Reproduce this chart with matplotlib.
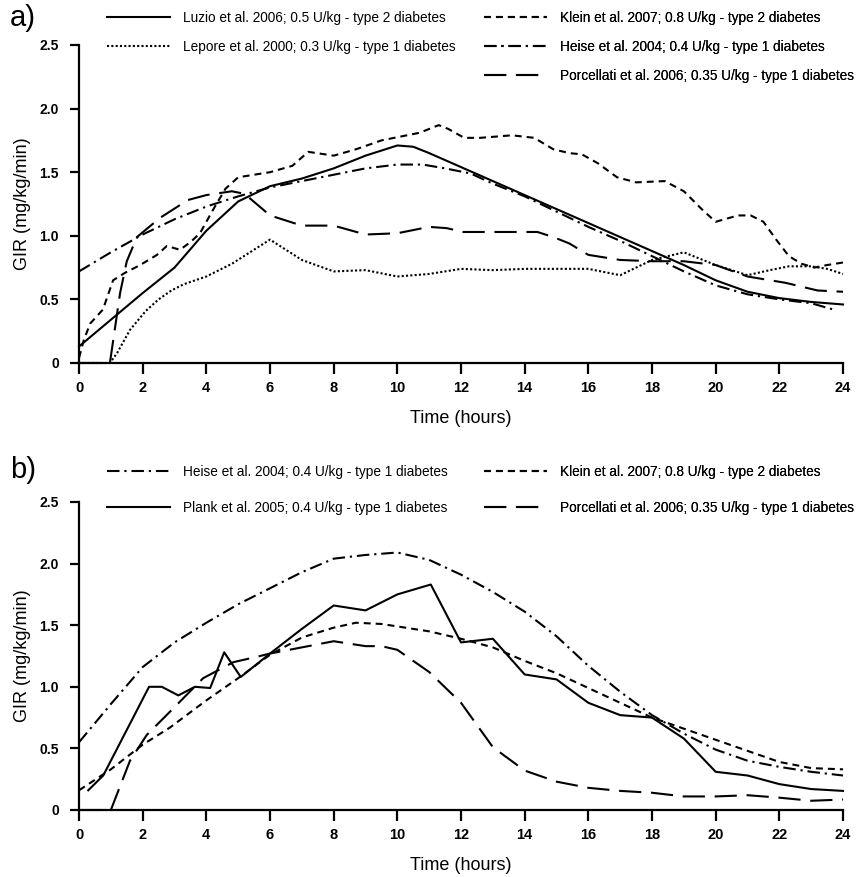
import matplotlib
matplotlib.use("Agg")
import matplotlib.pyplot as plt

plt.rcParams['font.family'] = ['Liberation Sans', 'DejaVu Sans']
plt.rcParams['lines.scale_dashes'] = False

# panel a) data
luzio_x = [0, 1, 2, 3, 4, 5, 6, 7, 8, 9, 10, 10.5, 11, 12, 13, 14, 15, 16, 17, 18, 19, 20, 21, 22, 23, 24]
luzio_y = [0.13, 0.34, 0.55, 0.75, 1.04, 1.27, 1.39, 1.45, 1.53, 1.63, 1.71, 1.70, 1.65, 1.54, 1.43, 1.32,
           1.21, 1.10, 0.99, 0.88, 0.77, 0.65, 0.56, 0.51, 0.48, 0.46]

lepore_x = [0, 0.97, 1.2, 1.6, 2.1, 2.5, 2.9, 3.3, 4, 4.8, 6, 7, 8, 9, 10, 11, 12, 13, 14, 15, 16, 17, 18,
            19, 20, 21, 21.7, 22.3, 23, 23.5, 24]
lepore_y = [0, 0, 0.08, 0.26, 0.41, 0.50, 0.57, 0.62, 0.68, 0.78, 0.97, 0.81, 0.72, 0.73, 0.68, 0.70, 0.74,
            0.73, 0.74, 0.74, 0.74, 0.69, 0.81, 0.87, 0.77, 0.69, 0.73, 0.76, 0.76, 0.74, 0.70]

klein_a_x = [0, 0.15, 0.35, 0.75, 1.07, 1.45, 1.92, 2.45, 2.76, 3.17, 3.5, 3.8, 4.2, 4.6, 5, 6, 6.7, 7.2, 8,
             8.7, 9.5, 10.3, 10.7, 11.3, 11.6, 12.1, 12.6, 13.6, 14.3, 14.9, 15.4, 15.8, 16.3, 16.9, 17.5,
             18.4, 19, 19.6, 20, 20.7, 21.1, 21.5, 21.9, 22.3, 22.7, 23.1, 23.5, 24]
klein_a_y = [0.04, 0.18, 0.31, 0.42, 0.65, 0.71, 0.77, 0.85, 0.92, 0.89, 0.95, 1.02, 1.20, 1.37, 1.46, 1.50,
             1.55, 1.66, 1.63, 1.68, 1.75, 1.79, 1.81, 1.87, 1.84, 1.77, 1.77, 1.79, 1.77, 1.68, 1.65, 1.64,
             1.57, 1.46, 1.42, 1.43, 1.35, 1.20, 1.11, 1.16, 1.16, 1.11, 0.97, 0.84, 0.78, 0.75, 0.77, 0.79]

heise_a_x = [0, 1, 2, 3, 4, 5, 6, 7, 8, 9, 10, 10.8, 11.5, 12.3, 13, 14, 15, 16, 17, 18, 19, 20, 21, 22, 23, 23.7]
heise_a_y = [0.72, 0.87, 1.01, 1.13, 1.23, 1.31, 1.38, 1.43, 1.48, 1.53, 1.56, 1.56, 1.53, 1.49, 1.41, 1.31,
             1.19, 1.07, 0.96, 0.84, 0.72, 0.61, 0.54, 0.50, 0.47, 0.42]

porc_a_x = [0, 0.97, 1.29, 1.5, 1.82, 2.54, 3.1, 3.4, 4, 4.8, 5.2, 6, 7, 8, 9, 10, 11, 11.55, 12.07, 13, 14.4,
            14.9, 15.4, 16, 17, 18, 19, 20, 21, 22.2, 23.2, 24]
porc_a_y = [0, 0, 0.55, 0.80, 0.99, 1.14, 1.23, 1.28, 1.32, 1.35, 1.33, 1.16, 1.08, 1.08, 1.01, 1.02, 1.07,
            1.06, 1.03, 1.03, 1.03, 0.99, 0.94, 0.85, 0.81, 0.80, 0.80, 0.77, 0.68, 0.63, 0.57, 0.56]

# panel b) data
heise_b_x = list(range(25))
heise_b_y = [0.55, 0.86, 1.16, 1.36, 1.52, 1.67, 1.80, 1.93, 2.04, 2.07, 2.09, 2.03, 1.91, 1.77, 1.61, 1.41,
             1.17, 0.96, 0.77, 0.62, 0.49, 0.40, 0.35, 0.31, 0.28]

plank_x = [0.29, 0.76, 2.2, 2.6, 3.12, 3.64, 4.12, 4.56, 5.08, 6, 7, 8, 9, 10, 11.05, 12, 13, 14, 15, 16, 17,
           18, 19, 20, 21, 22, 23, 24]
plank_y = [0.16, 0.28, 1.00, 1.00, 0.93, 1.00, 0.99, 1.28, 1.08, 1.27, 1.47, 1.66, 1.62, 1.75, 1.83, 1.36,
           1.39, 1.10, 1.06, 0.87, 0.77, 0.75, 0.58, 0.31, 0.28, 0.21, 0.17, 0.155]

klein_b_x = [0, 1, 1.6, 2, 2.86, 4, 5, 6, 7, 8, 8.7, 9.5, 10, 11, 12, 13, 14, 15, 16, 17, 18, 19, 20, 21, 22, 23, 24]
klein_b_y = [0.16, 0.33, 0.45, 0.53, 0.67, 0.89, 1.07, 1.26, 1.40, 1.48, 1.52, 1.51, 1.49, 1.45, 1.39, 1.32,
             1.21, 1.11, 0.99, 0.87, 0.75, 0.66, 0.57, 0.48, 0.39, 0.34, 0.33]

porc_b_x = [0, 1.0, 1.6, 2.13, 2.75, 3.9, 4.85, 5.53, 6, 7, 8, 9, 9.5, 10, 11, 12, 13, 14, 15, 16, 17, 18, 19,
            20, 21, 22, 23, 24]
porc_b_y = [0, 0, 0.40, 0.61, 0.77, 1.07, 1.20, 1.24, 1.27, 1.32, 1.37, 1.33, 1.33, 1.30, 1.12, 0.87, 0.51,
            0.32, 0.23, 0.18, 0.155, 0.14, 0.11, 0.11, 0.12, 0.10, 0.075, 0.085]

x_ticks = list(range(0, 25, 2))
y_ticks = [0, 0.5, 1.0, 1.5, 2.0, 2.5]
y_tick_labels = ['0', '0.5', '1.0', '1.5', '2.0', '2.5']

# line styles (dash patterns in points)
solid = '-'
dotted = (0, (1.5, 1.6))
short_dash = (0, (5, 3.6))
dash_dot = (0, (9, 3.5, 1.6, 3.5))
long_dash = (0, (16, 7))

LW = 1.5

fig = plt.figure(figsize=(8.59, 8.77), dpi=100)
ax1 = fig.add_axes([0.0920, 0.5861, 0.8894, 0.3626])
ax2 = fig.add_axes([0.0920, 0.0764, 0.8894, 0.3512])


def style_axes(ax):
    ax.set_xlim(0, 24)
    ax.set_ylim(0, 2.5)
    ax.set_xticks(x_ticks)
    ax.set_yticks(y_ticks)
    ax.set_yticklabels(y_tick_labels)
    for s in ['top', 'right']:
        ax.spines[s].set_visible(False)
    for s in ['left', 'bottom']:
        ax.spines[s].set_linewidth(1.6)
    ax.tick_params(axis='x', direction='out', length=8, width=1.6, labelsize=10.5, pad=5)
    ax.tick_params(axis='y', direction='out', length=6.5, width=1.6, labelsize=10, pad=8)
    for lab in ax.get_xticklabels() + ax.get_yticklabels():
        lab.set_fontweight('bold')
    ax.set_xlabel('Time (hours)', fontsize=13, labelpad=11)
    ax.set_ylabel('GIR (mg/kg/min)', fontsize=13, labelpad=6)


def plot_line(ax, x, y, ls, label):
    ln, = ax.plot(x, y, color='black', linestyle=ls, linewidth=LW, label=label, clip_on=False)
    return ln


# panel a
la1 = plot_line(ax1, luzio_x, luzio_y, solid, 'Luzio et al. 2006; 0.5 U/kg - type 2 diabetes')
la2 = plot_line(ax1, lepore_x, lepore_y, dotted, 'Lepore et al. 2000; 0.3 U/kg - type 1 diabetes')
la3 = plot_line(ax1, klein_a_x, klein_a_y, short_dash, 'Klein et al. 2007; 0.8 U/kg - type 2 diabetes')
la4 = plot_line(ax1, heise_a_x, heise_a_y, dash_dot, 'Heise et al. 2004; 0.4 U/kg - type 1 diabetes')
la5 = plot_line(ax1, porc_a_x, porc_a_y, long_dash, 'Porcellati et al. 2006; 0.35 U/kg - type 1 diabetes')
style_axes(ax1)

# panel b
lb1 = plot_line(ax2, heise_b_x, heise_b_y, dash_dot, 'Heise et al. 2004; 0.4 U/kg - type 1 diabetes')
lb2 = plot_line(ax2, plank_x, plank_y, solid, 'Plank et al. 2005; 0.4 U/kg - type 1 diabetes')
lb3 = plot_line(ax2, klein_b_x, klein_b_y, short_dash, 'Klein et al. 2007; 0.8 U/kg - type 2 diabetes')
lb4 = plot_line(ax2, porc_b_x, porc_b_y, long_dash, 'Porcellati et al. 2006; 0.35 U/kg - type 1 diabetes')
style_axes(ax2)

leg_kw = dict(frameon=False, fontsize=9.8, handlelength=4.6, handletextpad=1.0,
              borderpad=0, borderaxespad=0, loc='upper left')


def add_legend(ax, handles, x0, y0, spacing):
    leg = ax.legend(handles=handles, bbox_to_anchor=(x0 / 859, 1 - y0 / 877),
                    bbox_transform=fig.transFigure, labelspacing=spacing, **leg_kw)
    ax.add_artist(leg)


add_legend(ax1, [la1, la2], 107, 11, 1.1)
add_legend(ax1, [la3, la4, la5], 484, 11, 1.1)
add_legend(ax2, [lb1, lb2], 107, 465, 1.6)
add_legend(ax2, [lb3, lb4], 484, 465, 1.6)

fig.text(10 / 859, 1 - 18 / 877, 'a)', fontsize=21, va='center', ha='left')
fig.text(10 / 859, 1 - 470 / 877, 'b)', fontsize=21, va='center', ha='left')

fig.savefig('out.png', dpi=100)
